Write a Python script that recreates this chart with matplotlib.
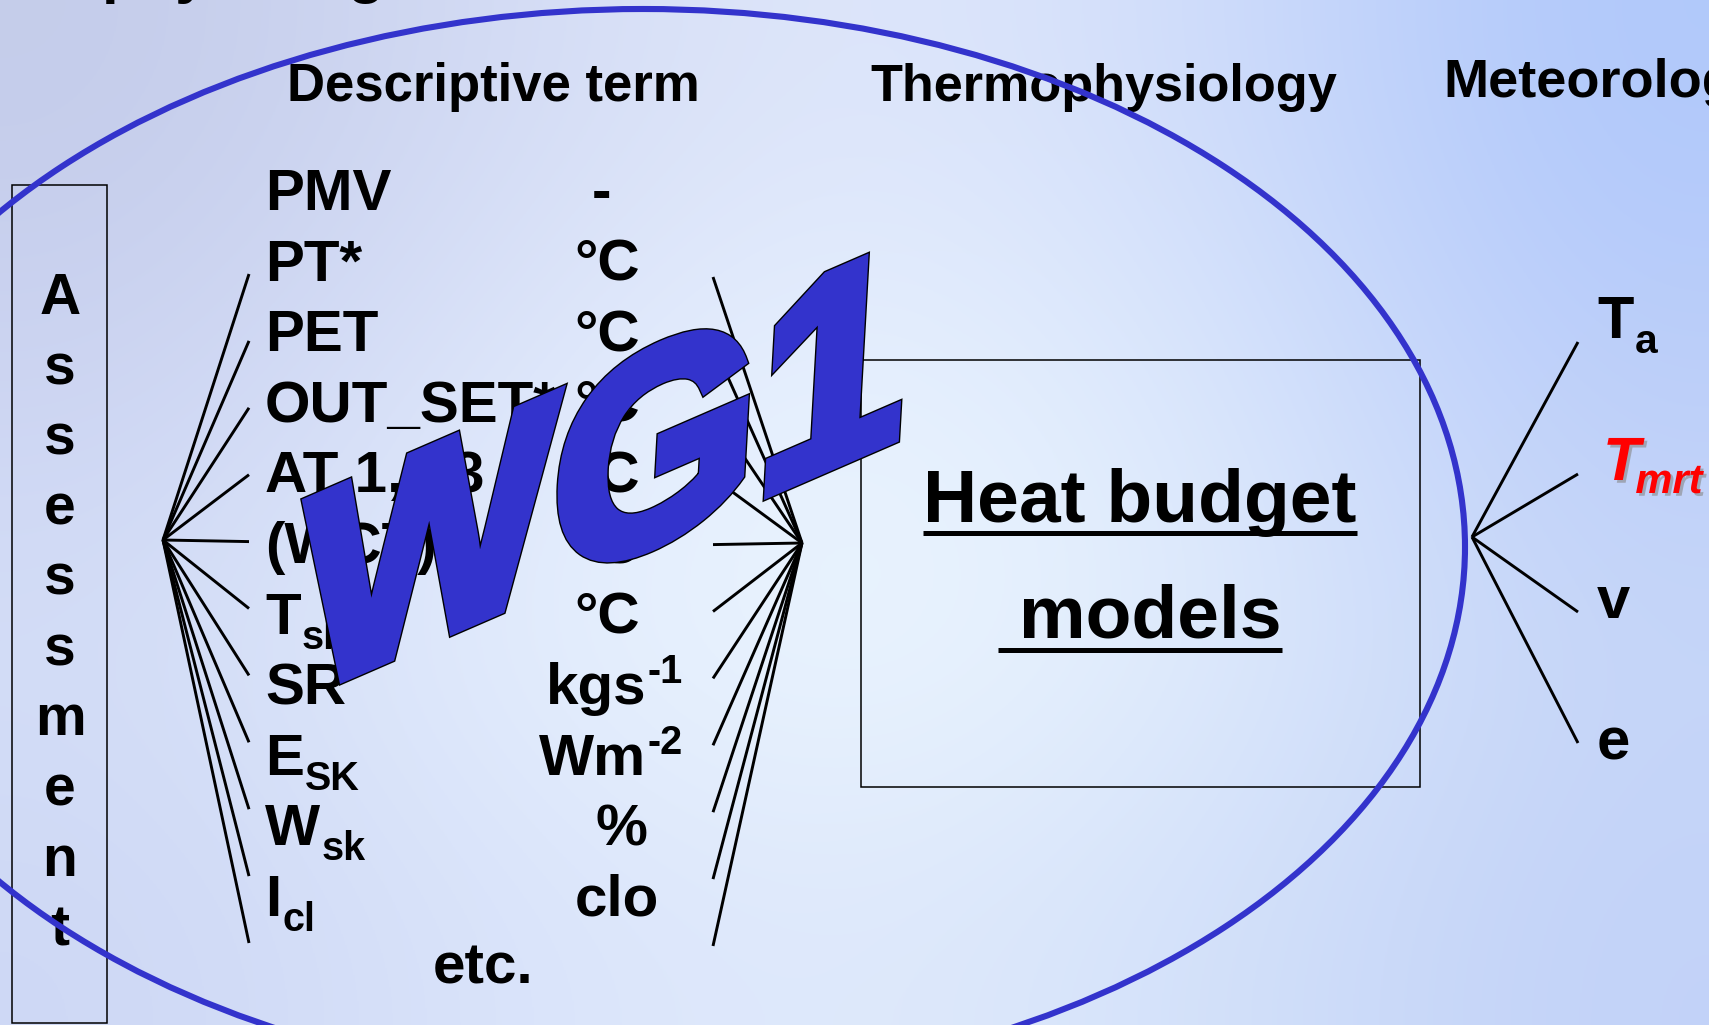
import numpy as np
import matplotlib.pyplot as plt
import matplotlib.patheffects as pe
from matplotlib.patches import Ellipse, Rectangle, PathPatch
from matplotlib.textpath import TextPath
from matplotlib.font_manager import FontProperties
from matplotlib.transforms import Affine2D

plt.rcParams['font.family'] = ['Liberation Sans', 'DejaVu Sans']
plt.rcParams['font.weight'] = 'bold'

################################################################################
# Content.                                                                     #
################################################################################
title     = 'Biophysiological'
headings  = ['Descriptive term', 'Thermophysiology', 'Meteorology']
side_word = 'Assessment'
term_main = ['PMV', 'PT*', 'PET', 'OUT_SET*', 'AT 1,2,3', '(WCT)',
             'T', 'SR', 'E', 'W', 'I']
term_sub  = ['', '', '', '', '', '', 'sk', '', 'SK', 'sk', 'cl']
unit_main = ['-', '°C', '°C', '°C', '°C', '°C', '°C', 'kgs', 'Wm', '%', 'clo']
unit_sup  = ['', '', '', '', '', '', '', '-1', '-2', '', '']
model_lines = ['Heat budget', ' models']
met_main  = ['T', 'T', 'v', 'e']
met_sub   = ['a', 'mrt', '', '']
wg_label  = 'WG1'

################################################################################
# Figure.                                                                      #
################################################################################
W, H = 1709, 1025
fig = plt.figure(figsize=(W/100., H/100.), dpi=100)
ax  = fig.add_axes([0, 0, 1, 1])
ax.set_xlim(0, W)
ax.set_ylim(H, 0)
ax.axis('off')
renderer = fig.canvas.get_renderer()

def right_edge(t):
  bb = t.get_window_extent(renderer)
  return ax.transData.inverted().transform((bb.x1, 0))[0]

def left_edge(t):
  bb = t.get_window_extent(renderer)
  return ax.transData.inverted().transform((bb.x0, 0))[0]

def text_with_index(x, y, main, idx, size, dy, ha='left', **kw):
  # Main text plus a smaller sub/superscript placed right after it.
  t1 = ax.text(x, y, main, fontsize=size, va='baseline', zorder=3, **kw)
  if not idx:
    return
  t2 = ax.text(right_edge(t1) + 1, y + dy, idx, fontsize=size*0.68,
               va='baseline', zorder=3, **kw)
  if ha == 'center':
    shift = (right_edge(t2) - x) / 2.
    t1.set_x(x - shift)
    t2.set_x(right_edge(t1) + 1)

# Sky-like background.
bg = np.array([
  [[196, 204, 234], [212, 220, 245], [224, 232, 251], [210, 222, 250], [176, 200, 250]],
  [[204, 212, 242], [222, 231, 252], [234, 244, 255], [220, 232, 252], [188, 206, 250]],
  [[212, 222, 247], [228, 238, 253], [238, 248, 255], [226, 237, 252], [198, 214, 248]],
  [[206, 216, 245], [218, 228, 251], [224, 234, 251], [212, 226, 250], [194, 210, 248]],
]) / 255.
ax.imshow(bg, extent=(0, W, H, 0), interpolation='bicubic', aspect='auto', zorder=0)
ax.set_xlim(0, W)
ax.set_ylim(H, 0)

blue = '#3333CC'
lw_fan = 2.1

# Title (cut off at the top, as in the slide).
ax.text(6, -8, title, fontsize=43, va='baseline', zorder=3)

# Headings.
ax.text(287, 101, headings[0], fontsize=38, va='baseline', zorder=3)
ax.text(870, 101, headings[1], fontsize=37.6, va='baseline', zorder=3)
ax.text(1443, 97, headings[2], fontsize=39, va='baseline', zorder=3)

# Assessment box.
ax.add_patch(Rectangle((12, 185), 95, 838, fill=False, ec='black', lw=1.1, zorder=2))
for i, ch in enumerate(side_word):
  ax.text(60, 314 + 70.2*i, ch.lower() if i else ch, fontsize=41, ha='center',
          va='baseline', zorder=3)

# Terms and units.
unit_x = [601, 607, 607, 607, 607, 607, 607, 614, 611, 621, 617]
for i in range(len(term_main)):
  yb = 210 + 70.6*i
  text_with_index(265, yb, term_main[i], term_sub[i], 42, 15)
  text_with_index(unit_x[i], yb, unit_main[i], unit_sup[i], 42, -21, ha='center')
  if not unit_sup[i]:
    ax.texts[-1].set_horizontalalignment('center')
ax.text(433, 983, 'etc.', fontsize=42, va='baseline', zorder=3)

# Fans on both sides of the term list.
for i in range(len(term_main)):
  ye = 274 + 66.9*i
  ax.plot([163, 249], [540, ye], color='black', lw=lw_fan, zorder=2,
          solid_capstyle='butt')
  ax.plot([802, 713], [543, ye + 3], color='black', lw=lw_fan, zorder=2,
          solid_capstyle='butt')

# Heat budget box.
ax.add_patch(Rectangle((861, 360), 559, 427, fill=False, ec='black', lw=1.1, zorder=2))
for txt, yb, yu in zip(model_lines, [522, 638], [533, 650]):
  t = ax.text(1140, yb, txt, fontsize=54, ha='center', va='baseline', zorder=3)
  ax.plot([left_edge(t), right_edge(t)], [yu, yu], color='black', lw=3.6,
          zorder=3, solid_capstyle='butt')

# Meteorological fan.
met_end_y   = [342, 474, 612, 743]
met_label_y = [338, 480, 618, 760]
for i in range(len(met_main)):
  ax.plot([1472, 1578], [537, met_end_y[i]], color='black', lw=lw_fan, zorder=2,
          solid_capstyle='butt')
  if i == 1:
    shadow = [pe.withSimplePatchShadow(offset=(2, -2), shadow_rgbFace='#888888', alpha=0.6)]
    t = ax.text(1603, met_label_y[i], met_main[i], fontsize=44, color='red',
                style='italic', va='baseline', zorder=3, path_effects=shadow)
    ax.text(right_edge(t) - 5, met_label_y[i] + 13, met_sub[i], fontsize=30,
            color='red', style='italic', va='baseline', zorder=3, path_effects=shadow)
  else:
    text_with_index(1597, met_label_y[i], met_main[i], met_sub[i], 43, 15)

# WG1 word art: heavy glyphs, sheared upwards to the right.
tp  = TextPath((0, 0), wg_label, size=1,
               prop=FontProperties(family='Liberation Sans', weight='bold'))
k, s, sy = 0.434, 0.06, 282.
w1 = Affine2D(np.array([[1, s, 0], [0, 1, 0], [0, 0, 1]])).transform_path(tp).get_extents().width
sx = 587. / w1
M  = Affine2D(np.array([[sx, sx*s, 0], [-k*sx, -sy, 0], [0, 0, 1]]))
p  = M.transform_path(tp)
e  = p.get_extents()
p  = Affine2D().translate(308 - e.x0, 262 - e.y0).transform_path(p)
wg = PathPatch(p, fc=blue, ec=blue, lw=8, zorder=5, joinstyle='miter',
               path_effects=[pe.Stroke(linewidth=10, foreground='black'), pe.Normal()])
ax.add_patch(wg)

# Big ellipse.
ax.add_patch(Ellipse((643, 547), 2*822, 2*538, fill=False, ec=blue, lw=4.4, zorder=6))

fig.savefig('out.png', dpi=100)
plt.close()
